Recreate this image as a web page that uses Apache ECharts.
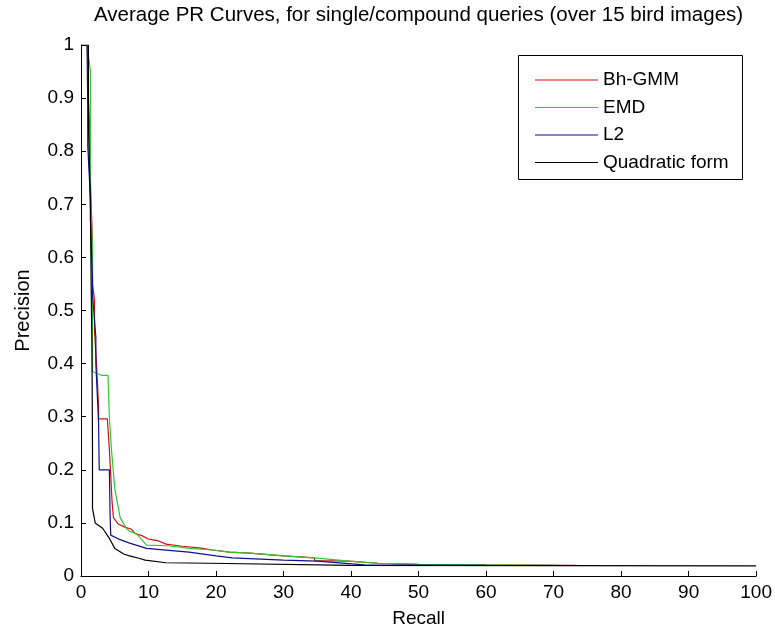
<!DOCTYPE html>
<html>
<head>
<meta charset="utf-8">
<script src="https://cdn.jsdelivr.net/npm/echarts@6/dist/echarts.min.js"></script>
<style>html,body{margin:0;padding:0;background:#fff}#c{width:775px;height:633px}</style>
</head>
<body>
<div id="c"></div>
<script>
var seriesNames = ['Bh-GMM', 'EMD', 'L2', 'Quadratic form'];

var bhRecall = [0.9, 1.1, 1.1, 1.3, 1.3, 1.5, 1.7, 1.7, 2.0, 2.0, 2.3, 2.6, 2.6, 3.9, 4.2, 4.4, 4.6, 4.8, 5.5, 6.5, 7.5, 8.0, 9.0, 9.9, 11.5, 12.6, 15, 17.5, 19.5, 22, 25, 30, 34.6, 34.6, 39.7, 44, 50, 60, 73.4];
var bhPrecision = [1.0, 0.95, 0.90, 0.84, 0.78, 0.70, 0.63, 0.55, 0.52, 0.46, 0.40, 0.32, 0.296, 0.296, 0.24, 0.19, 0.14, 0.11, 0.098, 0.092, 0.088, 0.080, 0.076, 0.070, 0.066, 0.060, 0.056, 0.053, 0.049, 0.045, 0.043, 0.038, 0.034, 0.029, 0.028, 0.024, 0.022, 0.021, 0.020];

var emdRecall = [0.9, 1.4, 1.4, 1.5, 1.7, 1.7, 3.0, 4.0, 4.2, 4.5, 5.0, 5.8, 6.7, 7.2, 8.2, 9.7, 13, 16, 19.5, 22, 25, 30, 34.6, 39.7, 44, 50, 60, 70.4];
var emdPrecision = [1.0, 0.95, 0.72, 0.68, 0.62, 0.385, 0.378, 0.378, 0.30, 0.24, 0.165, 0.11, 0.09, 0.084, 0.08, 0.058, 0.057, 0.052, 0.049, 0.045, 0.043, 0.038, 0.034, 0.028, 0.024, 0.022, 0.021, 0.020];

var l2Recall = [0.9, 1.0, 1.0, 1.4, 1.4, 1.7, 1.7, 2.2, 2.2, 2.6, 2.7, 4.2, 4.3, 4.4, 5.5, 7.2, 9.7, 16, 20, 22.4, 30, 35, 42, 60];
var l2Precision = [1.0, 0.88, 0.81, 0.71, 0.67, 0.56, 0.53, 0.45, 0.40, 0.29, 0.20, 0.20, 0.12, 0.077, 0.070, 0.062, 0.052, 0.045, 0.038, 0.034, 0.030, 0.028, 0.021, 0.020];

var qfRecall = [0, 1.1, 1.1, 1.3, 1.4, 1.5, 1.6, 1.65, 1.7, 1.7, 2.1, 3.2, 4.2, 5.0, 6.4, 7.2, 8.7, 9.5, 12.6, 19, 19, 40, 100];
var qfPrecision = [1.0, 1.0, 0.85, 0.75, 0.69, 0.55, 0.45, 0.37, 0.25, 0.128, 0.10, 0.09, 0.071, 0.052, 0.041, 0.038, 0.033, 0.030, 0.025, 0.024, 0.021, 0.020, 0.019];

var xTicks = [0, 10, 20, 30, 40, 50, 60, 70, 80, 90, 100];
var yTicks = [0, 0.1, 0.2, 0.3, 0.4, 0.5, 0.6, 0.7, 0.8, 0.9, 1];

function pairs(xs, ys) { return xs.map(function (x, i) { return [x, ys[i]]; }); }

var colors = ['#d41010', '#30c830', '#10108f', '#000000'];
var FONT = 'Liberation Sans';

var chart = echarts.init(document.getElementById('c'), null, { renderer: 'canvas' });
chart.setOption({
  animation: false,
  backgroundColor: '#ffffff',
  title: {
    text: 'Average PR Curves, for single/compound queries (over 15 bird images)',
    left: 89, top: 0,
    textStyle: { fontFamily: FONT, fontSize: 20.5, fontWeight: 'normal', color: '#000' }
  },
  grid: { left: 81, right: 18, top: 45, bottom: 55 },
  xAxis: {
    type: 'value', min: xTicks[0], max: xTicks[xTicks.length - 1], interval: 10,
    name: 'Recall', nameLocation: 'middle', nameGap: 33,
    nameTextStyle: { fontFamily: FONT, fontSize: 19, color: '#000' },
    axisLine: { lineStyle: { color: '#000', width: 1 } },
    axisTick: { inside: true, length: 5, lineStyle: { color: '#000' } },
    axisLabel: { fontFamily: FONT, fontSize: 19, color: '#000', margin: 7 },
    splitLine: { show: false }
  },
  yAxis: {
    type: 'value', min: yTicks[0], max: yTicks[yTicks.length - 1], interval: 0.1,
    name: 'Precision', nameLocation: 'middle', nameGap: 48, nameRotate: 90,
    nameTextStyle: { fontFamily: FONT, fontSize: 20, color: '#000' },
    axisLine: { show: true, lineStyle: { color: '#000', width: 1 } },
    axisTick: { show: true, inside: true, length: 5, lineStyle: { color: '#000' } },
    axisLabel: { fontFamily: FONT, fontSize: 19, color: '#000', margin: 7,
      formatter: function (v) { return String(Math.round(v * 10) / 10); } },
    splitLine: { show: false }
  },
  legend: {
    orient: 'vertical', left: 530, top: 65,
    data: seriesNames,
    icon: 'rect', itemWidth: 63, itemHeight: 1, itemGap: 7.5,
    textStyle: { fontFamily: FONT, fontSize: 19, color: '#000', lineHeight: 20 },
    z: 5
  },
  graphic: [{
    type: 'rect', left: 518, top: 55, z: 3,
    shape: { width: 224, height: 124 },
    style: { fill: '#fff', stroke: '#000', lineWidth: 1 }
  }],
  series: [
    { name: seriesNames[0], type: 'line', data: pairs(bhRecall, bhPrecision), showSymbol: false, lineStyle: { width: 1.2, color: colors[0] }, itemStyle: { color: colors[0] } },
    { name: seriesNames[1], type: 'line', data: pairs(emdRecall, emdPrecision), showSymbol: false, lineStyle: { width: 1.2, color: colors[1] }, itemStyle: { color: colors[1] } },
    { name: seriesNames[2], type: 'line', data: pairs(l2Recall, l2Precision), showSymbol: false, lineStyle: { width: 1.2, color: colors[2] }, itemStyle: { color: colors[2] } },
    { name: seriesNames[3], type: 'line', data: pairs(qfRecall, qfPrecision), showSymbol: false, lineStyle: { width: 1.2, color: colors[3] }, itemStyle: { color: colors[3] } }
  ]
});
</script>
</body>
</html>
